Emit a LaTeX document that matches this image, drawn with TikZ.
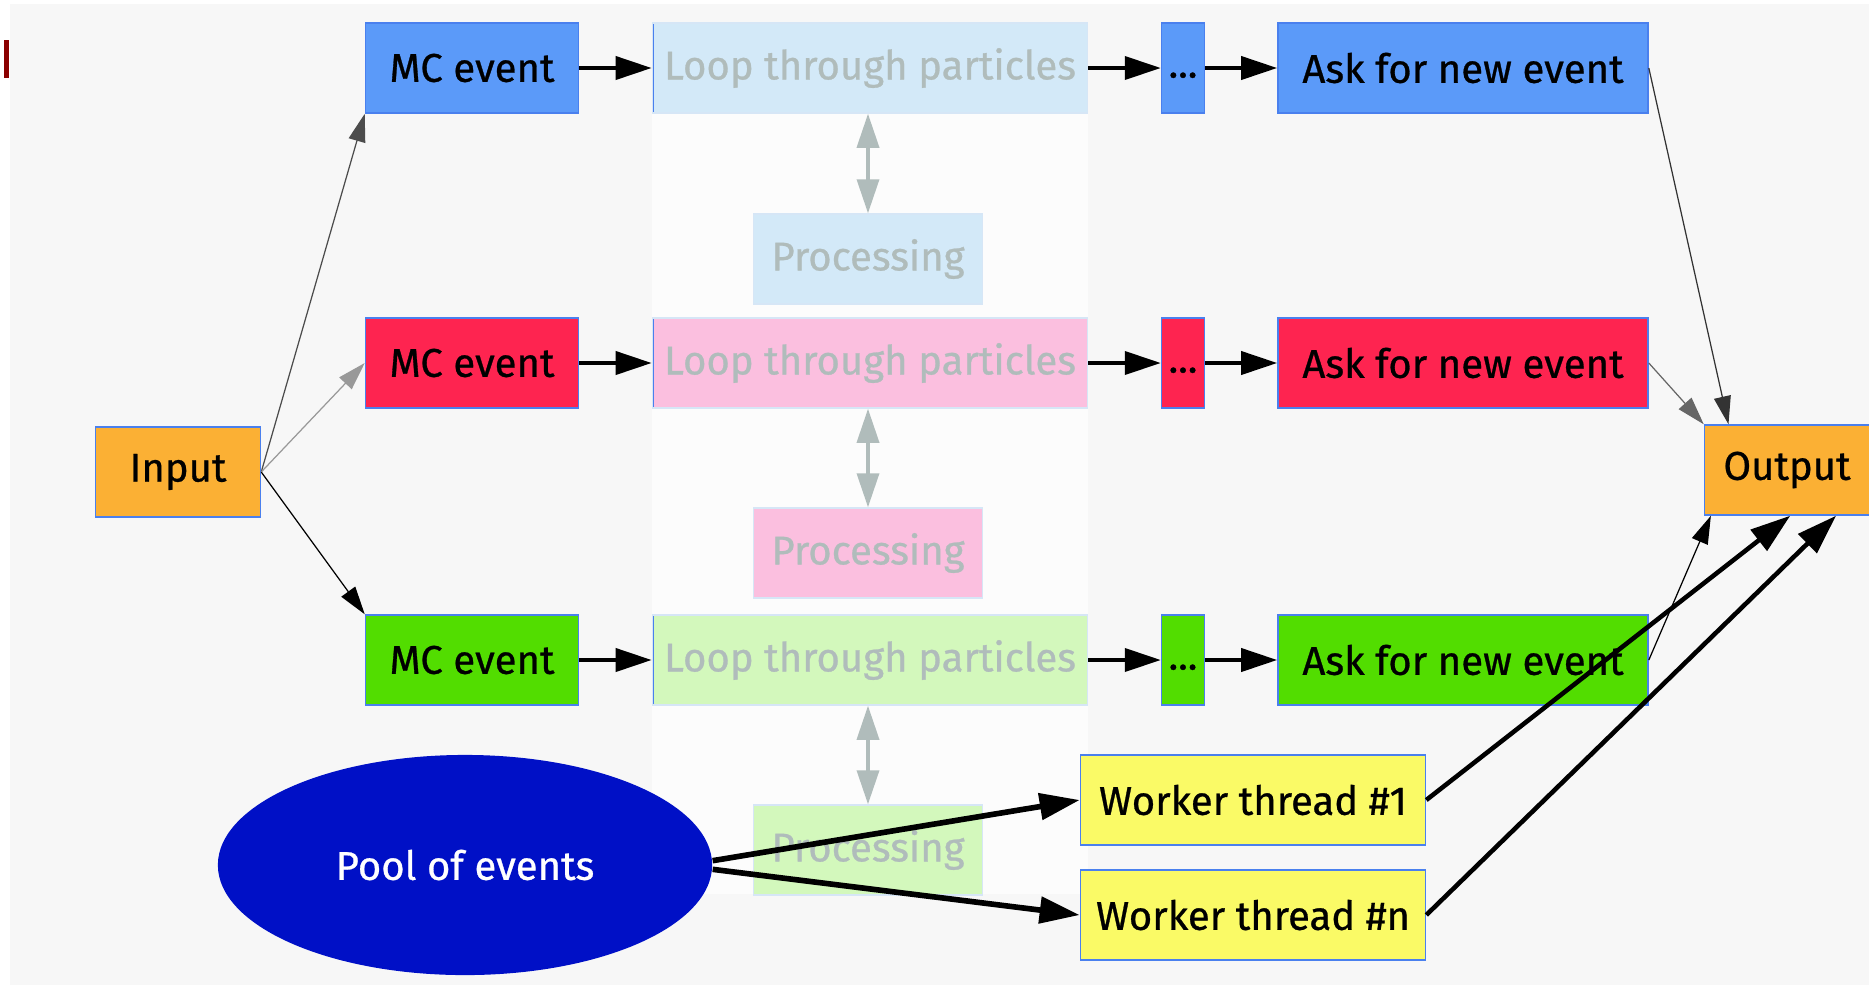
\documentclass[tikz,border=0pt]{standalone}
\usepackage{fontspec}
\setmainfont{Fira Sans}[FakeBold=0.7]
\usepackage{tikz}
\usetikzlibrary{arrows.meta,shapes.geometric}

\definecolor{slidebg}{HTML}{F7F7F7}
\definecolor{columnbg}{HTML}{FCFCFC}
\definecolor{slidered}{HTML}{8B0000}
\definecolor{boxline}{HTML}{4A80EE}
\definecolor{fadeline}{HTML}{D6E6F6}
\definecolor{fadetext}{HTML}{B0BCBB}
\definecolor{orangebox}{HTML}{FBB034}
\definecolor{mcblue}{HTML}{5B9AF9}
\definecolor{mcred}{HTML}{FE2450}
\definecolor{mcgreen}{HTML}{52DD00}
\definecolor{loopblue}{HTML}{D3E9F8}
\definecolor{looppink}{HTML}{FBBFDF}
\definecolor{loopgreen}{HTML}{D3F8BC}
\definecolor{workeryellow}{HTML}{FAFA66}
\definecolor{poolblue}{HTML}{0010C6}

\begin{document}
\begin{tikzpicture}[x=0.01cm, y=0.01cm]
	\tikzstyle{every node}+=[inner sep=0pt, font=\fontsize{11.4}{13}\selectfont]
	\tikzstyle{box}=[rectangle, minimum height=0.9cm, draw=boxline, line width=0.4pt]
	\tikzstyle{faded}=[box, draw=fadeline, text=fadetext]
	\tikzstyle{leftedge}=[path picture={\draw[boxline, line width=1pt] (path picture bounding box.north west) -- (path picture bounding box.south west);}]
	\tikzstyle{flow}=[line width=1.1pt, -{Triangle[length=3.6mm,width=2.3mm]}]
	\tikzstyle{feed}=[line width=0.35pt, -{Triangle[length=2.8mm,width=1.7mm]}]
	\tikzstyle{exchange}=[fadetext, line width=1pt, {Triangle[length=3.4mm,width=2.2mm]}-{Triangle[length=3.4mm,width=2.2mm]}]
	\tikzstyle{dispatch}=[line width=1.6pt, -{Triangle[length=4mm,width=2.6mm]}]
	\useasboundingbox (0,0) rectangle (1869,-987);
	\fill[slidebg] (10,-4) rectangle (1869,-985);
	\fill[columnbg] (652,-24) rectangle (1088,-894);
	\fill[slidered] (4,-40) rectangle (9,-78);
	% input and output
	\node[box, fill=orangebox, minimum width=1.65cm] (input) at (178,-472) {Input};
	\node[box, fill=orangebox, minimum width=1.65cm] (output) at (1787,-470) {Output};
	% first event
	\node[box, fill=mcblue, minimum width=2.13cm] (mc1) at (472,-68) {MC event};
	\node[faded, leftedge, fill=loopblue, minimum width=4.35cm] (loop1) at (870,-68) {Loop through particles};
	\node[faded, fill=loopblue, minimum width=2.29cm] (proc1) at (868,-259) {Processing};
	\node[box, fill=mcblue, minimum width=0.43cm] (dots1) at (1183,-68) {\vphantom{Ag}...};
	\node[box, fill=mcblue, minimum width=3.70cm] (ask1) at (1463,-68) {Ask for new event};
	% second event
	\node[box, fill=mcred, minimum width=2.13cm] (mc2) at (472,-363) {MC event};
	\node[faded, leftedge, fill=looppink, minimum width=4.35cm] (loop2) at (870,-363) {Loop through particles};
	\node[faded, fill=looppink, minimum width=2.29cm] (proc2) at (868,-553) {Processing};
	\node[box, fill=mcred, minimum width=0.43cm] (dots2) at (1183,-363) {\vphantom{Ag}...};
	\node[box, fill=mcred, minimum width=3.70cm] (ask2) at (1463,-363) {Ask for new event};
	% third event
	\node[box, fill=mcgreen, minimum width=2.13cm] (mc3) at (472,-660) {MC event};
	\node[faded, leftedge, fill=loopgreen, minimum width=4.35cm] (loop3) at (870,-660) {Loop through particles};
	\node[faded, fill=loopgreen, minimum width=2.29cm] (proc3) at (868,-850) {Processing};
	\node[box, fill=mcgreen, minimum width=0.43cm] (dots3) at (1183,-660) {\vphantom{Ag}...};
	\node[box, fill=mcgreen, minimum width=3.70cm] (ask3) at (1463,-660) {Ask for new event};
	% pool and workers
	\node[ellipse, fill=poolblue, text=white, minimum width=4.94cm, minimum height=2.2cm] (pool) at (465,-865) {Pool of events};
	\node[box, fill=workeryellow, minimum width=3.45cm] (worker1) at (1253,-800) {Worker thread \#1};
	\node[box, fill=workeryellow, minimum width=3.45cm] (workern) at (1253,-915) {Worker thread \#n};
	% chains
	\draw[flow] (mc1) -- (loop1);
	\draw[flow] (loop1) -- (dots1);
	\draw[flow] (dots1) -- (ask1);
	\draw[flow] (mc2) -- (loop2);
	\draw[flow] (loop2) -- (dots2);
	\draw[flow] (dots2) -- (ask2);
	\draw[flow] (mc3) -- (loop3);
	\draw[flow] (loop3) -- (dots3);
	\draw[flow] (dots3) -- (ask3);
	\draw[exchange] (loop1.south -| proc1) -- (proc1);
	\draw[exchange] (loop2.south -| proc2) -- (proc2);
	\draw[exchange] (loop3.south -| proc3) -- (proc3);
	% fan out and in
	\draw[feed, black!70] (input.east) -- (mc1.south west);
	\draw[feed, black!40] (input.east) -- (mc2.west);
	\draw[feed] (input.east) -- (mc3.north west);
	\draw[feed, black!80] (ask1.east) -- (output.142);
	\draw[feed, black!60] (ask2.east) -- (output.north west);
	\draw[feed] (ask3.east) -- (output.211);
	\draw[dispatch] (pool.1) -- (worker1.west);
	\draw[dispatch] (pool.-1) -- (workern.west);
	\draw[dispatch, line width=1.3pt] (worker1.east) -- (output.274);
	\draw[dispatch, line width=1.3pt] (workern.east) -- (output.317);
\end{tikzpicture}
\end{document}
